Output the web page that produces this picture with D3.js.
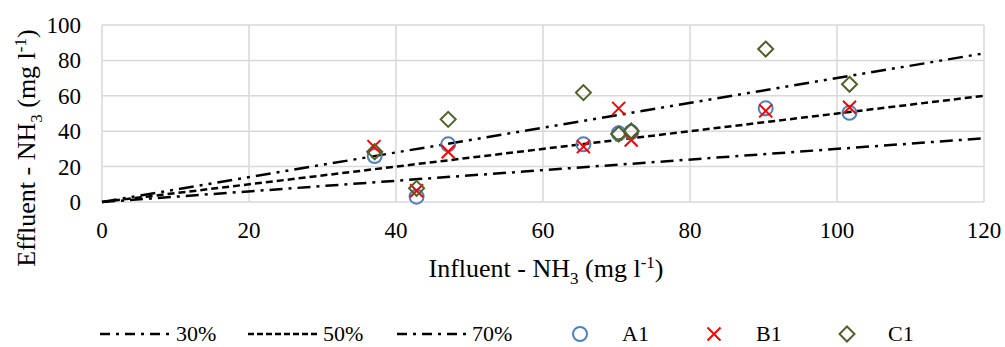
<!DOCTYPE html>
<html>
<head>
<meta charset="utf-8">
<script src="https://cdn.jsdelivr.net/npm/d3@7"></script>
<style>
  body { margin: 0; background: #fff; }
</style>
</head>
<body>
<div id="chart"></div>
<script>
// --- data ---
const xTicks = [0, 20, 40, 60, 80, 100, 120];
const yTicks = [0, 20, 40, 60, 80, 100];

const ratioNames = ["30%", "50%", "70%"];
const ratioValues = [0.3, 0.5, 0.7];
const lineXs = [0, 120];

const a1X = [37.1, 42.8, 47.1, 65.5, 70.3, 72.0, 90.3, 101.7];
const a1Y = [26.0, 3.0, 32.6, 32.6, 38.8, 39.5, 52.9, 50.4];
const b1X = [37.0, 42.8, 47.1, 65.5, 70.3, 72.0, 90.3, 101.7];
const b1Y = [31.3, 6.4, 28.4, 31.3, 52.9, 35.0, 51.5, 53.5];
const c1X = [37.1, 42.8, 47.1, 65.5, 70.3, 72.0, 90.3, 101.7];
const c1Y = [28.4, 7.7, 46.7, 61.8, 38.4, 40.1, 86.4, 66.5];

const width = 1005, height = 347;
const margin = { top: 25, right: 20, bottom: 145, left: 102 };
const w = 984 - margin.left;
const h = 202 - margin.top;
const serif = "'Liberation Serif', 'DejaVu Serif', serif";

const svg = d3.select("#chart").append("svg")
  .attr("width", width).attr("height", height)
  .attr("font-family", serif);
const g = svg.append("g").attr("transform", `translate(${margin.left},${margin.top})`);

const x = d3.scaleLinear().domain([0, 120]).range([0, w]);
const y = d3.scaleLinear().domain([0, 100]).range([h, 0]);

// grid
g.selectAll(".vgrid").data(xTicks).enter().append("line")
  .attr("x1", d => x(d)).attr("x2", d => x(d)).attr("y1", 0).attr("y2", h)
  .attr("stroke", "#d9d9d9").attr("stroke-width", 1.5);
g.selectAll(".hgrid").data(yTicks).enter().append("line")
  .attr("x1", 0).attr("x2", w).attr("y1", d => y(d)).attr("y2", d => y(d))
  .attr("stroke", "#d9d9d9").attr("stroke-width", 1.5);

// tick labels
g.selectAll(".xt").data(xTicks).enter().append("text")
  .attr("x", d => x(d)).attr("y", h + 36)
  .attr("text-anchor", "middle").attr("font-size", 23).text(d => d);
g.selectAll(".yt").data(yTicks).enter().append("text")
  .attr("x", -21).attr("y", d => y(d) + 8)
  .attr("text-anchor", "end").attr("font-size", 23).text(d => d);

// axis titles
function unitTitle(sel, label) {
  sel.append("tspan").text(label + " - NH");
  sel.append("tspan").text("3").attr("dy", 7).attr("font-size", 17);
  sel.append("tspan").text(" (mg l").attr("dy", -7);
  sel.append("tspan").text("-1").attr("dy", -9).attr("font-size", 17);
  sel.append("tspan").text(")").attr("dy", 9);
}
unitTitle(svg.append("text").attr("x", 546).attr("y", 277)
  .attr("text-anchor", "middle").attr("font-size", 26), "Influent");
unitTitle(svg.append("text").attr("transform", "translate(35,148) rotate(-90)")
  .attr("text-anchor", "middle").attr("font-size", 26), "Effluent");

// ratio lines
const dashes = ["13,6,3,6", "7,4", "15,6,3,6,3,6"];
const line = d3.line().x(d => x(d[0])).y(d => y(d[1]));
ratioValues.forEach((r, i) => {
  g.append("path")
    .datum(lineXs.map(v => [v, v * r]))
    .attr("d", line).attr("fill", "none")
    .attr("stroke", "#000").attr("stroke-width", 2.5)
    .attr("stroke-dasharray", dashes[i]);
});

// markers
const blue = "#4f81bd", red = "#ff0000", green = "#4f6228";
function circles(sel, xs, ys) {
  sel.selectAll(null).data(xs).enter().append("circle")
    .attr("cx", d => x(d)).attr("cy", (d, i) => y(ys[i])).attr("r", 7)
    .attr("fill", "none").attr("stroke", blue).attr("stroke-width", 2);
}
function crosses(sel, xs, ys) {
  sel.selectAll(null).data(xs).enter().append("path")
    .attr("d", (d, i) => {
      const cx = x(d), cy = y(ys[i]), s = 6.5;
      return `M${cx - s},${cy - s}L${cx + s},${cy + s}M${cx - s},${cy + s}L${cx + s},${cy - s}`;
    })
    .attr("stroke", red).attr("stroke-width", 2).attr("fill", "none");
}
function diamonds(sel, xs, ys) {
  sel.selectAll(null).data(xs).enter().append("path")
    .attr("d", (d, i) => {
      const cx = x(d), cy = y(ys[i]), s = 7.5;
      return `M${cx},${cy - s}L${cx + s},${cy}L${cx},${cy + s}L${cx - s},${cy}Z`;
    })
    .attr("stroke", green).attr("stroke-width", 2).attr("fill", "none");
}
circles(g, a1X, a1Y);
crosses(g, b1X, b1Y);
diamonds(g, c1X, c1Y);

// legend
const ly = 334;
const lineLegendX = [100, 248, 397];
const textLegendX = [176, 323, 472];
ratioNames.forEach((n, i) => {
  svg.append("line").attr("x1", lineLegendX[i]).attr("x2", lineLegendX[i] + 70)
    .attr("y1", ly).attr("y2", ly)
    .attr("stroke", "#000").attr("stroke-width", 2.5)
    .attr("stroke-dasharray", i === 1 ? "6,3" : "10,6,3,6");
  svg.append("text").attr("x", textLegendX[i]).attr("y", ly + 7)
    .attr("font-size", 22).text(n);
});
const lg = svg.append("g").attr("transform", `translate(${margin.left},${margin.top})`);
const lgy = y.invert(ly - margin.top);
circles(lg, [x.invert(580 - margin.left)], [lgy]);
crosses(lg, [x.invert(714 - margin.left)], [lgy]);
diamonds(lg, [x.invert(847 - margin.left)], [lgy]);
[["A1", 622], ["B1", 756], ["C1", 888]].forEach(([t, px]) => {
  svg.append("text").attr("x", px).attr("y", ly + 7).attr("font-size", 22).text(t);
});
</script>
</body>
</html>
